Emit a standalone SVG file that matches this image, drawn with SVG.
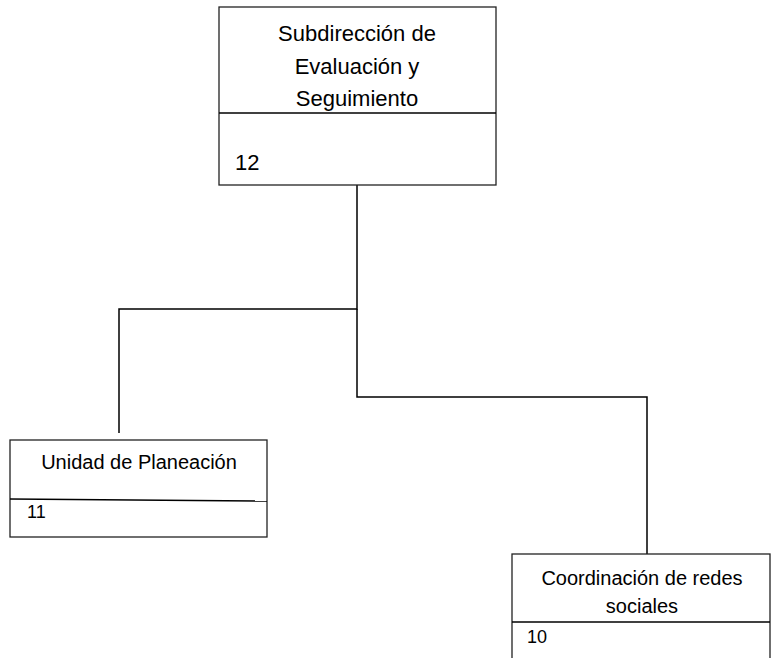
<svg xmlns="http://www.w3.org/2000/svg" width="773" height="658" viewBox="0 0 773 658">
<style>
.box{fill:#fff;stroke:#222;stroke-width:1.3}
.div{stroke:#000;stroke-width:1.5;fill:none}
.t{font-family:"Liberation Sans",Arial,sans-serif;fill:#000}
.c{stroke:#000;stroke-width:1.5;fill:none}
</style>
<rect width="773" height="658" fill="#fff"/>
<g id="connectors">
<polyline class="c" points="357,185 357,309 119,309 119,433"/>
<polyline class="c" points="357,309 357,397 647,397 647,554"/>
</g>
<g id="node-subdireccion">
<rect class="box" x="219" y="7" width="277" height="178"/>
<line class="div" x1="219" y1="113" x2="496" y2="113"/>
<text class="t" font-size="22" text-anchor="middle" x="357" y="41">Subdirección de</text>
<text class="t" font-size="22" text-anchor="middle" x="357" y="74">Evaluación y</text>
<text class="t" font-size="22" text-anchor="middle" x="357" y="106">Seguimiento</text>
<text class="t" font-size="22" x="235" y="170">12</text>
</g>
<g id="node-planeacion">
<rect class="box" x="10" y="440" width="257" height="97"/>
<line class="div" x1="10" y1="499" x2="267" y2="501"/>
<text class="t" font-size="20" text-anchor="middle" x="139" y="469">Unidad de Planeación</text>
<text class="t" font-size="18" x="27" y="518">11</text>
</g>
<g id="node-redes">
<rect class="box" x="512" y="554" width="258" height="120"/>
<line class="div" x1="512" y1="622" x2="770" y2="622"/>
<text class="t" font-size="20" text-anchor="middle" x="642" y="585">Coordinación de redes</text>
<text class="t" font-size="20" text-anchor="middle" x="642" y="613">sociales</text>
<text class="t" font-size="18" x="527" y="643">10</text>
</g>
</svg>
